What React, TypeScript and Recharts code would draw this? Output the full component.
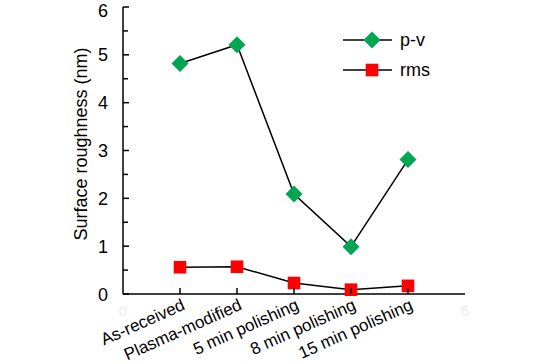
import { LineChart, Line, XAxis, YAxis } from "recharts";

const categories = ["As-received", "Plasma-modified", "5 min polishing", "8 min polishing", "15 min polishing"];
const positions = [1, 2, 3, 4, 5];
const pv = [4.82, 5.21, 2.09, 0.99, 2.81];
const rms = [0.56, 0.57, 0.23, 0.09, 0.17];
const yTicks = [0, 0.5, 1, 1.5, 2, 2.5, 3, 3.5, 4, 4.5, 5, 5.5, 6];
const xTicks = [0, 1, 2, 3, 4, 5, 6];

const data = positions.map((p, i) => ({ pos: p, name: categories[i], pv: pv[i], rms: rms[i] }));

const FONT = "Liberation Sans, Arial, sans-serif";

const Diamond = (props: any) => {
  const { cx, cy } = props;
  if (cx == null || cy == null) return null;
  const r = 8.5;
  return <polygon points={`${cx},${cy - r} ${cx + r},${cy} ${cx},${cy + r} ${cx - r},${cy}`} fill="#00a651" />;
};

const Square = (props: any) => {
  const { cx, cy } = props;
  if (cx == null || cy == null) return null;
  const s = 6.3;
  return <rect x={cx - s} y={cy - s} width={s * 2} height={s * 2} fill="#ff0000" />;
};

const YTick = (props: any) => {
  const { x, y, payload } = props;
  const v = payload.value;
  const major = Number.isInteger(v);
  // keep the top label inside the picture
  const ty = Math.max(y + 6.5, 17);
  return (
    <g>
      <line x1={x} x2={x + (major ? 6 : 5)} y1={y} y2={y} stroke="#000" strokeWidth={1.5} />
      {major && (
        <text x={x - 15} y={ty} textAnchor="end" fontSize={18} fontFamily={FONT} fill="#000">
          {v}
        </text>
      )}
    </g>
  );
};

const XTick = (props: any) => {
  const { x, y, payload } = props;
  const v = payload.value;
  const idx = positions.indexOf(v);
  if (idx < 0) {
    return (
      <text x={x} y={y + 22} textAnchor="middle" fontSize={15} fontFamily={FONT} fill="#ececec">
        {v}
      </text>
    );
  }
  return (
    <g>
      <line x1={x} x2={x} y1={y} y2={y - 6} stroke="#000" strokeWidth={1.5} />
      <text
        x={x + 6}
        y={y + 15}
        textAnchor="end"
        fontSize={17}
        fontFamily={FONT}
        fill="#000"
        transform={`rotate(-24, ${x + 6}, ${y + 15})`}
      >
        {categories[idx]}
      </text>
    </g>
  );
};

const LegendBox = () => (
  <svg width={120} height={60} style={{ position: "absolute", left: 340, top: 26 }}>
    <line x1={3} x2={52} y1={14} y2={14} stroke="#000" strokeWidth={1.5} />
    <polygon points="32,5.5 40.5,14 32,22.5 23.5,14" fill="#00a651" />
    <text x={60} y={20} fontSize={18} fontFamily={FONT} fill="#000">p-v</text>
    <line x1={3} x2={52} y1={44} y2={44} stroke="#000" strokeWidth={1.5} />
    <rect x={25.7} y={37.7} width={12.6} height={12.6} fill="#ff0000" />
    <text x={60} y={50} fontSize={18} fontFamily={FONT} fill="#000">rms</text>
  </svg>
);

export default function App() {
  return (
    <div style={{ position: "absolute", left: 0, top: 0, width: 542, height: 364, background: "#fff" }}>
      <LineChart width={542} height={364} data={data} margin={{ top: 7, right: 77, bottom: 0, left: 63 }}>
        <XAxis
          dataKey="pos"
          type="number"
          domain={[0, 6]}
          ticks={xTicks}
          interval={0}
          tick={<XTick />}
          tickLine={false}
          tickSize={0}
          tickMargin={0}
          height={70}
          axisLine={{ stroke: "#000", strokeWidth: 1.5 }}
        />
        <YAxis
          type="number"
          domain={[0, 6]}
          ticks={yTicks}
          interval={0}
          tick={<YTick />}
          tickLine={false}
          tickSize={0}
          tickMargin={0}
          width={60}
          axisLine={{ stroke: "#000", strokeWidth: 1.5 }}
          label={{
            content: () => (
              <text
                x={87}
                y={144}
                textAnchor="middle"
                fontSize={18}
                fontFamily={FONT}
                fill="#000"
                transform="rotate(-90, 87, 144)"
              >
                Surface roughness (nm)
              </text>
            ),
          }}
        />
        <Line dataKey="pv" stroke="#000" strokeWidth={1.5} dot={<Diamond />} activeDot={false} isAnimationActive={false} />
        <Line dataKey="rms" stroke="#000" strokeWidth={1.5} dot={<Square />} activeDot={false} isAnimationActive={false} />
      </LineChart>
      <LegendBox />
    </div>
  );
}
